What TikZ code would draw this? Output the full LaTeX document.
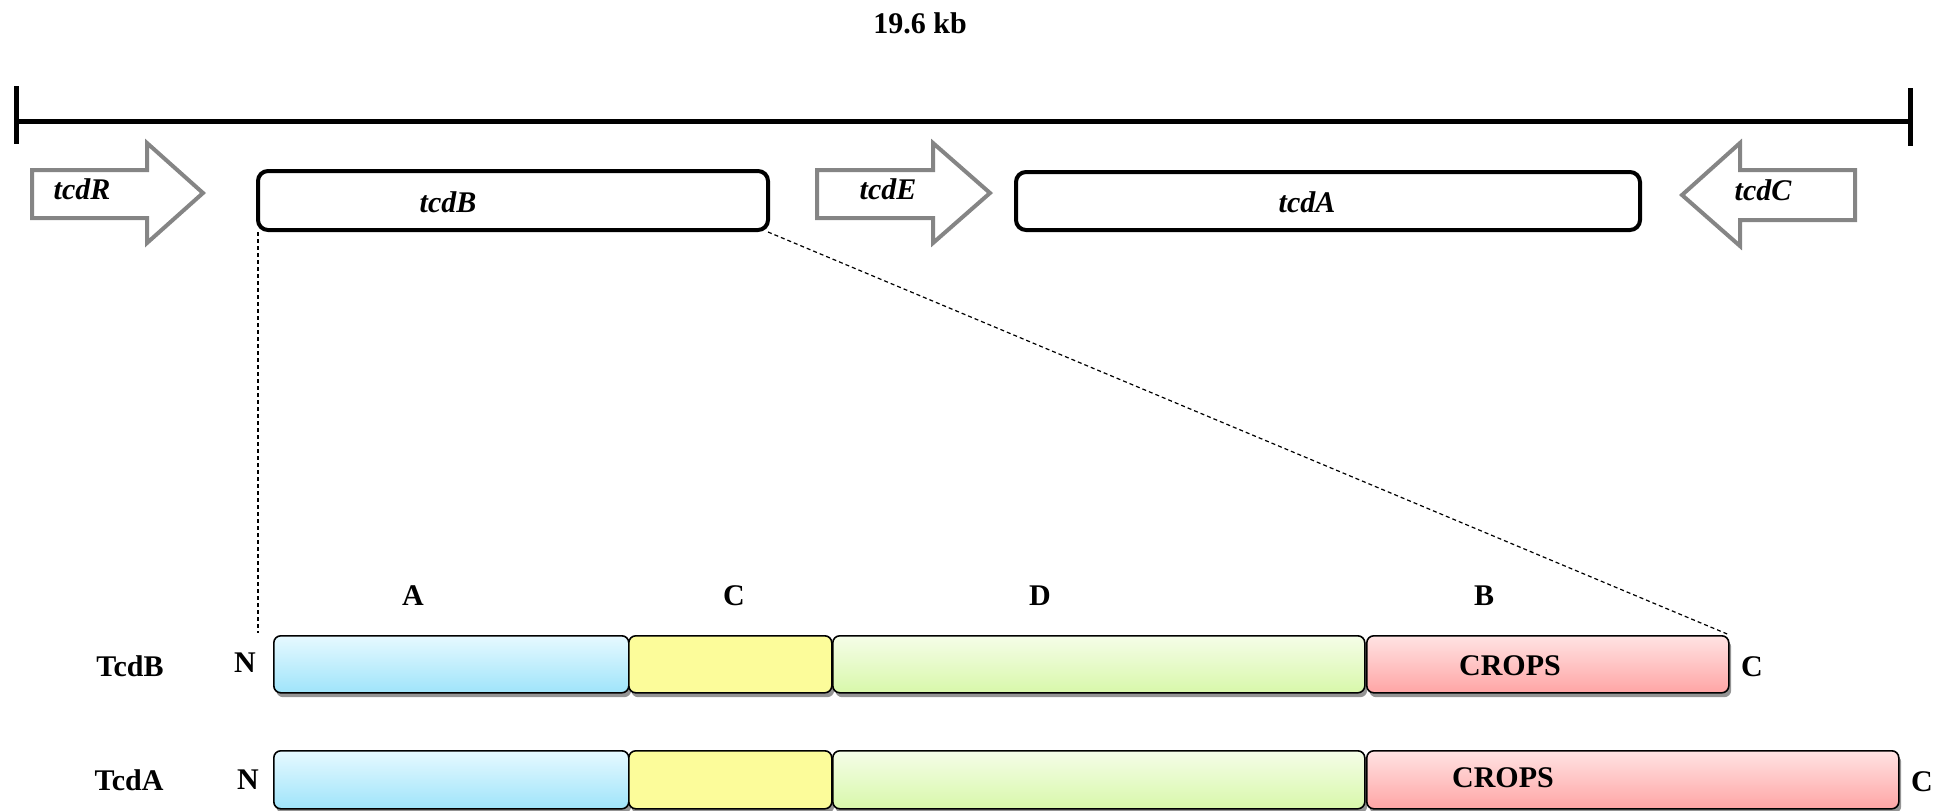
\documentclass[tikz,border=0pt]{standalone}
\usepackage{fontspec}
\setmainfont{Liberation Serif}
\usetikzlibrary{shadows}

\definecolor{geneGray}{HTML}{858585}
\definecolor{dBlueTop}{HTML}{E6F9FF}
\definecolor{dBlueBot}{HTML}{9FE4FA}
\definecolor{dYellow}{HTML}{FCFC9A}
\definecolor{dGreenTop}{HTML}{F5FDE8}
\definecolor{dGreenBot}{HTML}{D8F8AA}
\definecolor{dPinkTop}{HTML}{FFE3E3}
\definecolor{dPinkBot}{HTML}{FFA5A5}

\tikzset{
  lbl/.style={font=\fontsize{15}{18}\selectfont\bfseries, inner sep=0pt},
  genelbl/.style={font=\fontsize{15}{18}\selectfont\bfseries\itshape, inner sep=0pt},
  genebox/.style={draw=black, line width=2pt, rounded corners=5pt},
  genearrow/.style={draw=geneGray, line width=2pt, fill=white},
  scalebar/.style={line width=2.5pt},
  zoomline/.style={line width=0.6pt, dash pattern=on 2pt off 1.5pt},
  protseg/.style={draw=black, line width=0.8pt, rounded corners=3.5pt,
    inner sep=0pt, anchor=north west,
    drop shadow={shadow xshift=1.2pt, shadow yshift=-2.2pt, fill=black, opacity=0.42}},
  segA/.style={protseg, top color=dBlueTop, bottom color=dBlueBot},
  segC/.style={protseg, fill=dYellow},
  segD/.style={protseg, top color=dGreenTop, bottom color=dGreenBot},
  segB/.style={protseg, top color=dPinkTop, bottom color=dPinkBot},
}

\begin{document}
\begin{tikzpicture}[x=0.5pt, y=-0.5pt]
\useasboundingbox (0,0) rectangle (1951,810);

% scale bar
\node[lbl] (kb) at (920,23) {19.6 kb};
\coordinate (barL) at (16,121);
\coordinate (barR) at (1910,121);
\draw[scalebar] (barL) -- (barR);
\draw[scalebar] (16,86) -- (16,144);
\draw[scalebar] (1910,88) -- (1910,146);

% gene arrows
\draw[genearrow] (32,170) -- (147,170) -- (147,143) -- (203,193) -- (147,243) -- (147,218) -- (32,218) -- cycle;
\node[genelbl] (tcdR) at (82,189) {tcdR};
\draw[genearrow] (817,170) -- (933,170) -- (933,143) -- (990,193) -- (933,243) -- (933,218) -- (817,218) -- cycle;
\node[genelbl] (tcdE) at (888,189) {tcdE};
\draw[genearrow] (1855,170) -- (1740,170) -- (1740,143) -- (1682,195) -- (1740,246) -- (1740,220) -- (1855,220) -- cycle;
\node[genelbl] (tcdC) at (1763,190) {tcdC};

% gene boxes
\draw[genebox] (258,171) rectangle (768,230);
\node[genelbl] (tcdB) at (448,202) {tcdB};
\draw[genebox] (1016,172) rectangle (1640,230);
\node[genelbl] (tcdA) at (1307,202) {tcdA};

% TcdB domains
\node[segA, minimum width=177.5pt, minimum height=28.5pt] (bA) at (273,635) {};
\node[segC, minimum width=101.5pt, minimum height=28.5pt] (bC) at (628,635) {};
\node[segD, minimum width=266pt, minimum height=28.5pt] (bD) at (832,635) {};
\node[segB, minimum width=181pt, minimum height=28.5pt] (bB) at (1366,635) {};
\node[lbl] at (1510,666) {CROPS};

% TcdA domains
\node[segA, minimum width=177.5pt, minimum height=29pt] (aA) at (273,750) {};
\node[segC, minimum width=101.5pt, minimum height=29pt] (aC) at (628,750) {};
\node[segD, minimum width=266pt, minimum height=29pt] (aD) at (832,750) {};
\node[segB, minimum width=266pt, minimum height=29pt] (aB) at (1366,750) {};
\node[lbl] at (1503,778) {CROPS};

% domain letters
\node[lbl] (lA) at (413,596) {A};
\node[lbl] (lC) at (734,596) {C};
\node[lbl] (lD) at (1040,596) {D};
\node[lbl] (lB) at (1484,596) {B};

% row labels and termini
\node[lbl] (rowB) at (130,666) {TcdB};
\node[lbl] (nB) at (245,663) {N};
\node[lbl] (cB) at (1752,667) {C};
\node[lbl] (rowA) at (129,780) {TcdA};
\node[lbl] (nA) at (248,780) {N};
\node[lbl] (cA) at (1922,782) {C};

% zoom lines from tcdB to its protein
\coordinate (zL) at (258,633);
\draw[zoomline] (258,232) -- (zL);
\draw[zoomline] (768,232) -- (bB.north east);
\end{tikzpicture}
\end{document}
